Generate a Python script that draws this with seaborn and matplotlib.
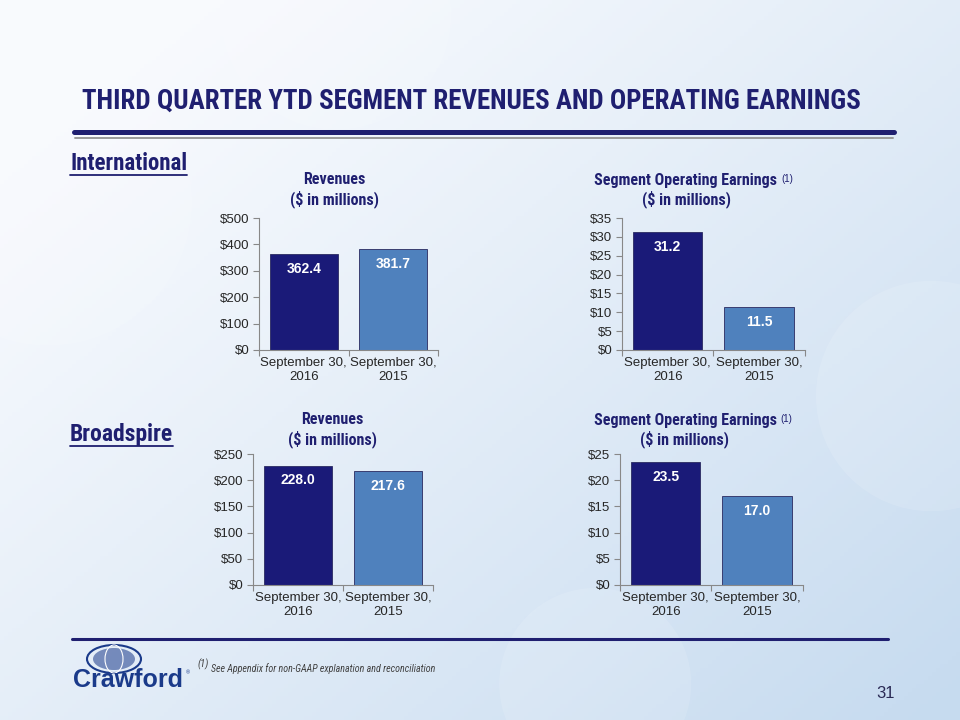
import numpy as np
import pandas as pd
import seaborn as sns
import matplotlib
matplotlib.use('Agg')
import matplotlib.pyplot as plt
from matplotlib.patches import Ellipse
from matplotlib.lines import Line2D

# data
periods = ["September 30,\n2016", "September 30,\n2015"]
intl_revenues = [362.4, 381.7]
intl_earnings = [31.2, 11.5]
broad_revenues = [228.0, 217.6]
broad_earnings = [23.5, 17.0]

NAVY = '#1a1a78'
LIGHT = '#4f81bd'
TITLE_COL = '#1f1f70'
HEAD_FONT = ['Liberation Sans Narrow', 'Roboto Condensed', 'Liberation Sans', 'DejaVu Sans']

sns.set_theme(style="white")
plt.rcParams['font.family'] = ['Liberation Sans', 'DejaVu Sans']

fig = plt.figure(figsize=(9.6, 7.2), dpi=100)
renderer = fig.canvas.get_renderer()


def fit_width(txt, width_px):
    # shrink/grow font size so the text spans width_px
    for _ in range(3):
        w = txt.get_window_extent(renderer).width
        txt.set_fontsize(txt.get_fontsize() * width_px / w)
    return txt


def px(x, y):
    return x / 960, 1 - y / 720


# background gradient
bg = fig.add_axes([0, 0, 1, 1], zorder=-10)
xx, yy = np.meshgrid(np.linspace(0, 1, 240), np.linspace(0, 1, 180))
t = np.clip(0.6 * xx + 0.55 * yy - 0.12, 0, 1) ** 1.1
c0 = np.array([0.975, 0.982, 0.995])
c1 = np.array([0.78, 0.86, 0.94])
img = c0[None, None, :] * (1 - t[..., None]) + c1[None, None, :] * t[..., None]
bg.imshow(img, extent=[0, 1, 0, 1], aspect='auto', origin='upper')
for cx, cy, r in [(0.97, 0.45, 0.12), (0.05, 0.72, 0.15), (0.62, 0.05, 0.1), (0.35, 0.98, 0.12)]:
    bg.add_patch(Ellipse((cx, cy), 2 * r, 2 * r * 960 / 720, facecolor='white', alpha=0.12, edgecolor='none'))
bg.set_xlim(0, 1)
bg.set_ylim(0, 1)
bg.axis('off')


def bar_chart(rect, values, ymax, step, title, title_xy):
    ax = fig.add_axes(rect)
    df = pd.DataFrame({'period': periods, 'value': values})
    sns.barplot(data=df, x='period', y='value', hue='period', palette=[NAVY, LIGHT],
                saturation=1, width=0.76, edgecolor='#2a2a60', linewidth=0.6, legend=False, ax=ax)
    ax.set_facecolor('none')
    ax.set_xlim(-0.5, 1.5)
    ax.set_ylim(0, ymax)
    ticks = np.arange(0, ymax + step / 2, step)
    ax.set_yticks(ticks)
    ax.set_yticklabels([f"${v:.0f}" for v in ticks], fontsize=9.5)
    ax.set_xticks([0, 1])
    ax.set_xticklabels(periods, fontsize=9.5)
    ax.set_xticks([-0.5, 0.5, 1.5], minor=True)
    ax.tick_params(axis='x', which='major', length=0, pad=5)
    ax.tick_params(axis='x', which='minor', length=4, width=0.8, color='#888888', direction='out', bottom=True)
    ax.tick_params(axis='y', length=4, width=0.8, color='#888888', direction='out', left=True, pad=3)
    ax.set_xlabel('')
    ax.set_ylabel('')
    for s in ['top', 'right']:
        ax.spines[s].set_visible(False)
    for s in ['left', 'bottom']:
        ax.spines[s].set_color('#888888')
        ax.spines[s].set_linewidth(0.8)
    for i, v in enumerate(values):
        ax.text(i, v - ymax * 0.06, f"{v:.1f}", ha='center', va='top', color='white',
                fontsize=10, fontweight='bold')
    # two-line heading: title_xy = (center x, y of title line, y of unit line) in pixels
    cx, y1, y2 = title_xy
    fig.text(*px(cx, y2), "($ in millions)", ha='center', va='center',
             family=HEAD_FONT, fontsize=11.5, fontweight='bold', color=TITLE_COL)
    tt = fig.text(*px(cx, y1), title, ha='center', va='center',
                  family=HEAD_FONT, fontsize=11.5, fontweight='bold', color=TITLE_COL)
    if title != 'Revenues':
        bb = tt.get_window_extent(renderer)
        fig.text((bb.x1 + 4) / 960, (bb.y1 - 1) / 720, "(1)", ha='left', va='top',
                 fontsize=7, color=TITLE_COL)
    return ax


bar_chart([0.2698, 0.5139, 0.1865, 0.1833], intl_revenues, 500, 100, 'Revenues', (334, 180, 199))
bar_chart([0.6479, 0.5139, 0.1906, 0.1833], intl_earnings, 35, 5, 'Segment Operating Earnings', (686, 180, 199))
bar_chart([0.2635, 0.1875, 0.1875, 0.1819], broad_revenues, 250, 50, 'Revenues', (332, 420, 439))
bar_chart([0.6458, 0.1875, 0.1906, 0.1819], broad_earnings, 25, 5, 'Segment Operating Earnings', (685, 420, 439))

# headings
title = fig.text(*px(82, 101), "THIRD QUARTER YTD SEGMENT REVENUES AND OPERATING EARNINGS",
                 family=HEAD_FONT, fontsize=16, fontweight='bold', color=TITLE_COL,
                 va='center', ha='left')
fit_width(title, 778)
fig.add_artist(Line2D([74 / 960, 894 / 960], [1 - 132 / 720] * 2, color=TITLE_COL, lw=3.6,
                      solid_capstyle='round'))
fig.add_artist(Line2D([75 / 960, 893 / 960], [1 - 138 / 720] * 2, color='#9a9a9a', lw=1.4))
fig.add_artist(Line2D([72 / 960, 888 / 960], [1 - 639 / 720] * 2, color=TITLE_COL, lw=2.2))

for label, y, w in [("International", 163, 117), ("Broadspire", 434, 103)]:
    st = fig.text(*px(70, y), label, family=HEAD_FONT, fontsize=15, fontweight='bold',
                  color=TITLE_COL, va='center', ha='left')
    fit_width(st, w)
    fig.add_artist(Line2D([70 / 960, (70 + w) / 960], [1 - (y + 12) / 720] * 2,
                          color=TITLE_COL, lw=1.3))

# footer
fig.text(*px(197, 664), "(1)", family=HEAD_FONT, fontsize=7.5, style='italic', color='#404040',
         va='center', ha='left')
fn = fig.text(*px(211, 669), "See Appendix for non-GAAP explanation and reconciliation",
              family=HEAD_FONT, fontsize=8, style='italic', color='#404040', va='center', ha='left')
fit_width(fn, 226)
fig.text(*px(886, 693), "31", fontsize=12, color='#2a2a55', va='center', ha='center')

# logo
logo = fig.text(*px(73, 680), "Crawford", fontsize=18, fontweight='bold', color='#1a3a8a',
                va='center', ha='left')
fit_width(logo, 110)
fig.text(*px(186, 673), "\u00ae", fontsize=4, color='#1a3a8a', va='center', ha='left')
gx, gy = px(114, 659)
fig.add_artist(Ellipse((gx, gy), 54 / 960, 28 / 720, facecolor='none', edgecolor='#1a3a8a', lw=1.5))
fig.add_artist(Ellipse((gx, gy), 42 / 960, 22 / 720, facecolor='#1a3a8a', edgecolor='none', alpha=0.55))
fig.add_artist(Ellipse((gx, gy), 18 / 960, 28 / 720, facecolor='none', edgecolor='white', lw=0.8))

fig.savefig('out.png', dpi=100)
